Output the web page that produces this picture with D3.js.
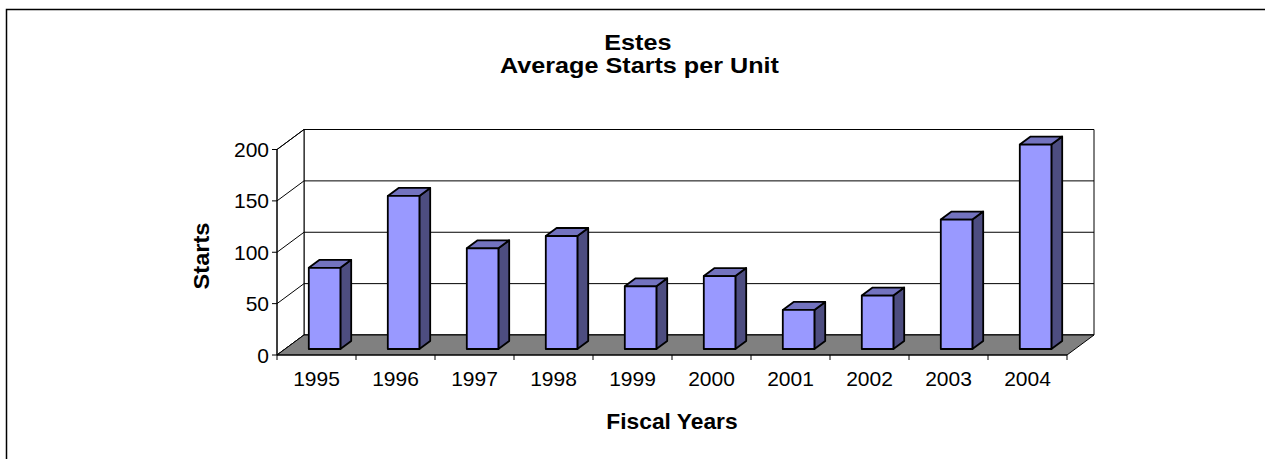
<!DOCTYPE html>
<html><head><meta charset="utf-8">
<script src="https://cdn.jsdelivr.net/npm/d3@7"></script>
<style>body{margin:0;background:#fff}svg{display:block}text{font-family:Arial,"Liberation Sans",sans-serif}</style>
</head><body>
<svg id="c" width="1265" height="459"></svg>
<script>
const years = ["1995","1996","1997","1998","1999","2000","2001","2002","2003","2004"];
const starts = [79,149,98,110,61,71,38,52,126,199];
const yTicks = [0,50,100,150,200];
const titleLines = ["Estes","Average Starts per Unit"];
const xTitle = "Fiscal Years", yTitle = "Starts";

const svg = d3.select("#c");
svg.append("rect").attr("x",6.5).attr("y",9.5).attr("width",1400).attr("height",600)
  .attr("fill","#fff").attr("stroke","#000").attr("stroke-width",1.5);

const x = d3.scaleBand().domain(years).range([277,1067]).paddingInner(0.6).paddingOuter(0.3);
const y = d3.scaleLinear().domain([0,200]).range([355,149.5]);
const DX = 27, DY = -20; // depth vector
const P = (px,py,d) => [px + d*DX, py + d*DY];
const poly = pts => "M" + pts.map(p=>p.join(",")).join("L") + "Z";
const x0 = x.range()[0], x1 = x.range()[1];
const yMin = y(0), yMax = y(200);

// back wall
svg.append("path").attr("d", poly([P(x0,yMax,1),P(x1,yMax,1),P(x1,yMin,1),P(x0,yMin,1)]))
  .attr("fill","#fff").attr("stroke","#000").attr("stroke-width",1);
// left wall
svg.append("path").attr("d", poly([P(x0,yMax,0),P(x0,yMax,1),P(x0,yMin,1),P(x0,yMin,0)]))
  .attr("fill","#fff").attr("stroke","#000").attr("stroke-width",1);
// gridlines
yTicks.forEach(t=>{
  const a=P(x0,y(t),0), b=P(x0,y(t),1), c=P(x1,y(t),1);
  svg.append("path").attr("d",`M${a}L${b}L${c}`).attr("fill","none").attr("stroke","#000").attr("stroke-width",1);
});
// floor
svg.append("path").attr("d", poly([P(x0,yMin,0),P(x0,yMin,1),P(x1,yMin,1),P(x1,yMin,0)]))
  .attr("fill","#808080").attr("stroke","#000").attr("stroke-width",1);

// bars
const d0 = 0.3, d1 = 0.7;
years.forEach((yr,i)=>{
  const v = starts[i];
  const L = x(yr), R = x(yr)+x.bandwidth(), T = y(v), B = y(0);
  const g = svg.append("g").attr("stroke","#000").attr("stroke-width",1.8).attr("stroke-linejoin","round");
  g.append("path").attr("d", poly([P(R,T,d0),P(R,T,d1),P(R,B,d1),P(R,B,d0)])).attr("fill","#4D4D80");
  g.append("path").attr("d", poly([P(L,T,d0),P(L,T,d1),P(R,T,d1),P(R,T,d0)])).attr("fill","#7373BF");
  g.append("path").attr("d", poly([P(L,T,d0),P(R,T,d0),P(R,B,d0),P(L,B,d0)])).attr("fill","#9999FF");
});

// axes
svg.append("line").attr("x1",x0).attr("x2",x0).attr("y1",yMax).attr("y2",yMin).attr("stroke","#000");
svg.append("line").attr("x1",x0).attr("x2",x1).attr("y1",yMin).attr("y2",yMin).attr("stroke","#000");
yTicks.forEach(t=>{
  svg.append("line").attr("x1",x0-5).attr("x2",x0).attr("y1",y(t)).attr("y2",y(t)).attr("stroke","#000");
  svg.append("text").attr("x",269).attr("y",y(t)+7.5).attr("text-anchor","end")
    .attr("font-size",21).text(t);
});
const step = x.step();
d3.range(years.length+1).forEach(i=>{
  const px = x0 + i*step;
  svg.append("line").attr("x1",px).attr("x2",px).attr("y1",yMin).attr("y2",yMin+5).attr("stroke","#000");
});
years.forEach((yr,i)=>{
  svg.append("text").attr("x",x0+(i+0.5)*step).attr("y",385.5).attr("text-anchor","middle")
    .attr("font-size",21).text(yr);
});

// titles (single text element, two lines), widened like the reference rendering
const tt = svg.append("text").attr("transform","translate(639.5,0) scale(1.12,1)")
  .attr("text-anchor","middle").attr("font-size",22.5).attr("font-weight","bold");
tt.append("tspan").attr("x",-1.5).attr("y",50.5).text(titleLines[0]);
tt.append("tspan").attr("x",0).attr("y",73.2).text(titleLines[1]);

svg.append("text").attr("transform","translate(672,428.5) scale(1.06,1)").attr("text-anchor","middle")
  .attr("font-size",21.5).attr("font-weight","bold").text(xTitle);
svg.append("text").attr("transform","translate(208.5,256) rotate(-90) scale(1.1,1)").attr("text-anchor","middle")
  .attr("font-size",21.5).attr("font-weight","bold").text(yTitle);
</script>
</body></html>
